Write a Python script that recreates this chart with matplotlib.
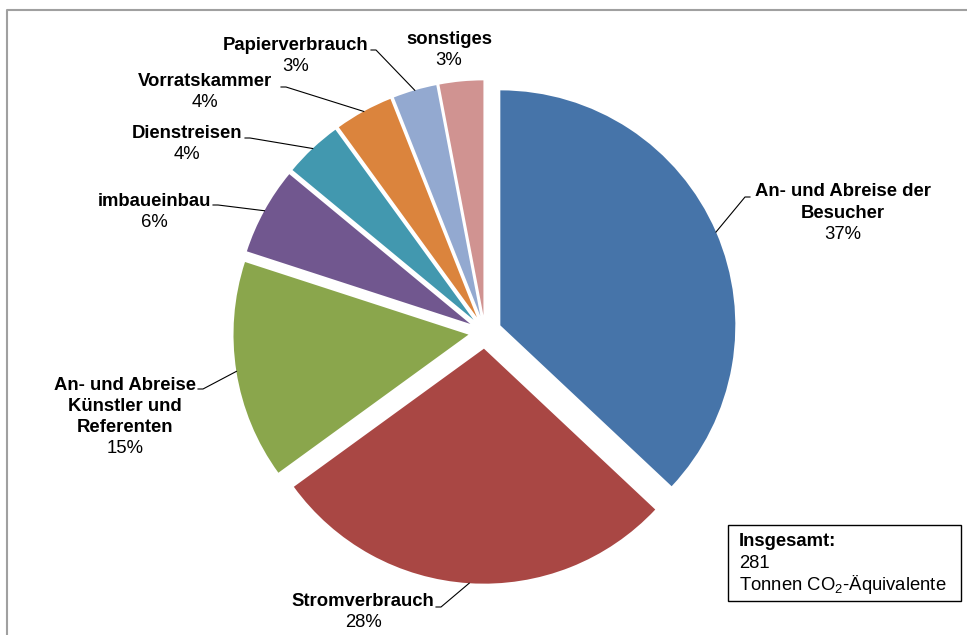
import numpy as np
import matplotlib
matplotlib.use('Agg')
import matplotlib.pyplot as plt
from matplotlib.patches import Rectangle

plt.rcParams['font.family'] = ['Liberation Sans', 'DejaVu Sans']
plt.rcParams['mathtext.fontset'] = 'custom'
plt.rcParams['mathtext.rm'] = 'Liberation Sans'
plt.rcParams['mathtext.it'] = 'Liberation Sans:italic'

# data
categories = ['An- und Abreise der\nBesucher', 'Stromverbrauch',
              'An- und Abreise\nKünstler und\nReferenten', 'imbaueinbau',
              'Dienstreisen', 'Vorratskammer', 'Papierverbrauch', 'sonstiges']
values = [37, 28, 15, 6, 4, 4, 3, 3]
colors = ['#4674A9', '#A94744', '#8AA64C', '#71578F',
          '#4298AF', '#DB843D', '#93A9D0', '#D09391']
total_value = 281

W, H = 967, 635
def py(y):  # pixel-from-top -> data y
    return H - y

# label layout: (centre x, first line y, leader start points or None)
label_pos = [
    (843, 192, [(750, 197), (745, 197)]),
    (363, 601, [(436, 607), (441, 607)]),
    (125, 385, [(198, 389), (203, 389)]),
    (154, 201, [(213, 205), (218, 205)]),
    (187, 133, [(245, 138), (250, 138)]),
    (205, 81, [(281, 87), (286, 87)]),
    (296, 45, [(371, 50), (376, 50)]),
    (449, 39, None),
]
line_h = 21.3
fs = 13.3
R = 235

fig = plt.figure(figsize=(W / 100, H / 100), dpi=100)
ax = fig.add_axes([0, 0, 1, 1])
wedges, _ = ax.pie(values, colors=colors, startangle=90, counterclock=False,
                   explode=[16.7] * len(values), radius=R,
                   center=(485, py(332)))
ax.set_xlim(0, W)
ax.set_ylim(0, H)
ax.axis('off')

for w, name, v, (lx, ly, lead) in zip(wedges, categories, values, label_pos):
    lines = name.split('\n')
    for i, t in enumerate(lines):
        ax.text(lx, py(ly + i * line_h), t, ha='center', va='center',
                fontsize=fs, fontweight='bold', color='black')
    ax.text(lx, py(ly + len(lines) * line_h), f'{v}%', ha='center',
            va='center', fontsize=fs, color='black')
    if lead is not None:
        th = np.deg2rad((w.theta1 + w.theta2) / 2)
        cx, cy = w.center
        ex, ey = cx + R * np.cos(th), cy + R * np.sin(th)
        xs = [p[0] for p in lead] + [ex]
        ys = [py(p[1]) for p in lead] + [ey]
        ax.plot(xs, ys, color='black', lw=0.8)

# total box
ax.add_patch(Rectangle((728, py(601)), 233, 76, fill=False,
                       edgecolor='black', lw=1))
ax.text(739, py(542), 'Insgesamt:', fontsize=fs, fontweight='bold',
        va='center', ha='left')
ax.text(739, py(564), f'{total_value}', fontsize=fs, va='center', ha='left')
ax.text(739, py(585), 'Tonnen CO$_2$-Äquivalente', fontsize=fs,
        va='center', ha='left')

# chart frame
ax.plot([6.5, 6.5, W + 5], [-5, py(9.5), py(9.5)], color='#a0a0a0', lw=1.5)

fig.savefig('out.png', dpi=100)
